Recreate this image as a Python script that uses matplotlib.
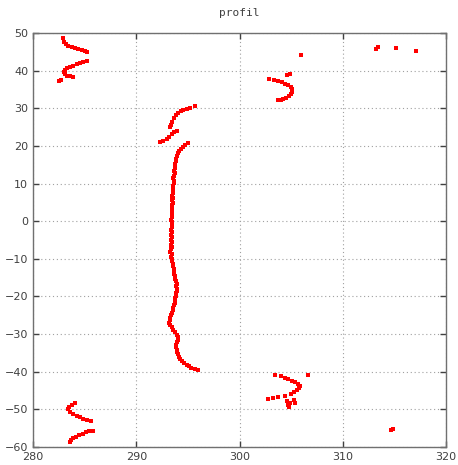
import matplotlib
matplotlib.use("Agg")
import matplotlib.pyplot as plt

# Main column
main_y = [20.7, 20.3, 19.8, 19.3, 18.7, 18.0, 17.3, 16.6, 16.0, 15.3,
          14.6, 14.0, 13.3, 12.7, 12.0, 11.4, 10.7, 10.1, 9.4, 8.8,
          8.1, 7.5, 6.8, 6.2, 5.5, 4.9, 4.2, 3.6, 2.9, 2.3,
          1.6, 1.0, 0.3, -0.3, -1.0, -1.6, -2.3, -2.9, -3.6, -4.2,
          -4.9, -5.5, -6.2, -6.8, -7.5, -8.1, -8.8, -9.4, -10.1, -10.7,
          -11.4, -12.0, -12.7, -13.3, -14.0, -14.6, -15.3, -15.9, -16.6, -17.2,
          -17.9, -18.5, -19.2, -19.8, -20.5, -21.1, -21.8, -22.4, -23.1, -23.7,
          -24.4, -25.0, -25.7, -26.3, -27.0, -27.6, -28.2, -28.9, -29.5, -30.2,
          -30.8, -31.5, -32.1, -32.8, -33.4, -34.1, -34.7, -35.4, -36.0, -36.6,
          -37.2, -37.7, -38.2, -38.6, -39.0, -39.3, -39.5]
main_x = [295.05, 294.75, 294.5, 294.3, 294.15, 294.0, 293.92, 293.88, 293.85, 293.8,
          293.75, 293.8, 293.7, 293.72, 293.65, 293.6, 293.68, 293.62, 293.55, 293.6,
          293.52, 293.58, 293.5, 293.55, 293.48, 293.52, 293.45, 293.5, 293.48, 293.42,
          293.5, 293.45, 293.4, 293.48, 293.42, 293.5, 293.4, 293.45, 293.38, 293.45,
          293.4, 293.48, 293.35, 293.42, 293.4, 293.3, 293.45, 293.4, 293.48, 293.42,
          293.55, 293.6, 293.65, 293.62, 293.7, 293.75, 293.8, 293.85, 293.9, 293.88,
          293.92, 293.9, 293.85, 293.82, 293.8, 293.75, 293.72, 293.65, 293.6, 293.55,
          293.5, 293.4, 293.3, 293.25, 293.22, 293.3, 293.45, 293.6, 293.75, 293.95,
          294.05, 294.0, 293.92, 293.88, 293.85, 293.9, 293.95, 294.0, 294.1, 294.25,
          294.45, 294.65, 294.9, 295.1, 295.35, 295.65, 296.0]

# Upper "f" segment of main column
upper_x = [295.69, 295.2, 294.9, 294.56, 294.3, 294.07, 293.85, 293.66, 293.5, 293.37, 293.27,
           293.9, 293.66, 293.43, 293.2, 292.95, 292.6, 292.3]
upper_y = [30.6, 30.2, 29.9, 29.5, 29.3, 28.8, 28.2, 27.3, 26.4, 25.6, 24.95,
           24.0, 23.8, 23.2, 22.45, 21.75, 21.3, 20.95]

# Top-left arcs
tl_x = [282.94, 283.03, 283.16, 283.42, 283.74, 284.07, 284.39, 284.71, 285.0, 285.26,
        285.2, 284.87, 284.55, 284.23, 283.9, 283.58, 283.26, 283.1, 283.0, 283.1,
        283.3, 283.58, 283.9, 282.7, 282.55]
tl_y = [48.6, 47.7, 47.0, 46.5, 46.2, 45.9, 45.7, 45.6, 45.3, 45.0,
        42.6, 42.4, 42.0, 41.7, 41.3, 41.0, 40.6, 40.2, 39.6, 39.0,
        38.7, 38.5, 38.4, 37.6, 37.3]

# Top-right points and cluster
tr_x = [305.96, 313.19, 313.38, 315.16, 317.1,
        304.63, 304.92, 302.9, 303.34, 303.76, 304.08, 304.4, 304.73, 304.96, 305.1,
        305.1, 305.0, 304.8, 304.5, 304.24, 304.0, 303.76]
tr_y = [44.2, 45.66, 46.3, 46.1, 45.2,
        38.9, 39.1, 37.8, 37.6, 37.3, 36.9, 36.5, 36.2, 35.7, 35.0,
        34.3, 33.7, 33.3, 32.8, 32.5, 32.3, 32.1]

# Bottom-right cluster and points
br_x = [303.44, 303.99, 304.4, 304.73, 305.05, 305.38, 305.7, 305.86, 305.76, 305.54,
        305.28, 304.96, 306.6, 304.4, 303.76, 303.28, 302.79, 304.63, 304.9, 305.3,
        305.38, 304.73, 304.83, 314.84, 314.67]
br_y = [-40.9, -41.1, -41.6, -41.9, -42.4, -42.8, -43.25, -43.7, -44.2, -44.8,
        -45.45, -46.0, -40.9, -46.35, -46.6, -47.05, -47.3, -47.85, -48.2, -47.5,
        -48.4, -48.8, -49.3, -55.1, -55.4]

# Bottom-left arcs
bl_x = [284.07, 283.74, 283.52, 283.42, 283.58, 283.9, 284.23, 284.55, 284.87, 285.2, 285.59,
        285.78, 285.45, 285.13, 284.81, 284.48, 284.16, 283.9, 283.68, 283.58]
bl_y = [-48.4, -48.8, -49.3, -50.0, -50.6, -51.2, -51.75, -52.1, -52.5, -52.7, -53.0,
        -55.65, -55.8, -56.1, -56.45, -56.8, -57.25, -57.7, -58.1, -58.6]

x_ticks = [280, 290, 300, 310, 320]
y_ticks = [50, 40, 30, 20, 10, 0, -10, -20, -30, -40, -50, -60]

fig = plt.figure(figsize=(4.58, 4.65), dpi=100)
ax = fig.add_axes([33 / 458, 1 - 447 / 465, 413 / 458, 414 / 465])

for xs, ys in [(main_x, main_y), (upper_x, upper_y), (tl_x, tl_y),
               (tr_x, tr_y), (br_x, br_y), (bl_x, bl_y)]:
    ax.plot(xs, ys, linestyle="none", marker="s", markersize=2.7,
            color="#ff0000", markeredgewidth=0)

ax.set_xlim(280, 320)
ax.set_ylim(-60, 50)
ax.set_xticks(x_ticks)
ax.set_yticks(y_ticks)
ax.grid(True, linestyle=(0, (1, 2.5)), color="#a0a0a0", linewidth=0.8)
ax.tick_params(direction="in", length=4.5, width=1, color="#404040",
               top=True, right=True, labelsize=8, labelcolor="#404040")
for s in ax.spines.values():
    s.set_color("#707070")
    s.set_linewidth(1)
ax.set_title("profil", fontsize=8, family="DejaVu Sans Mono", color="#404040", pad=12)

fig.savefig("out.png", dpi=100)
